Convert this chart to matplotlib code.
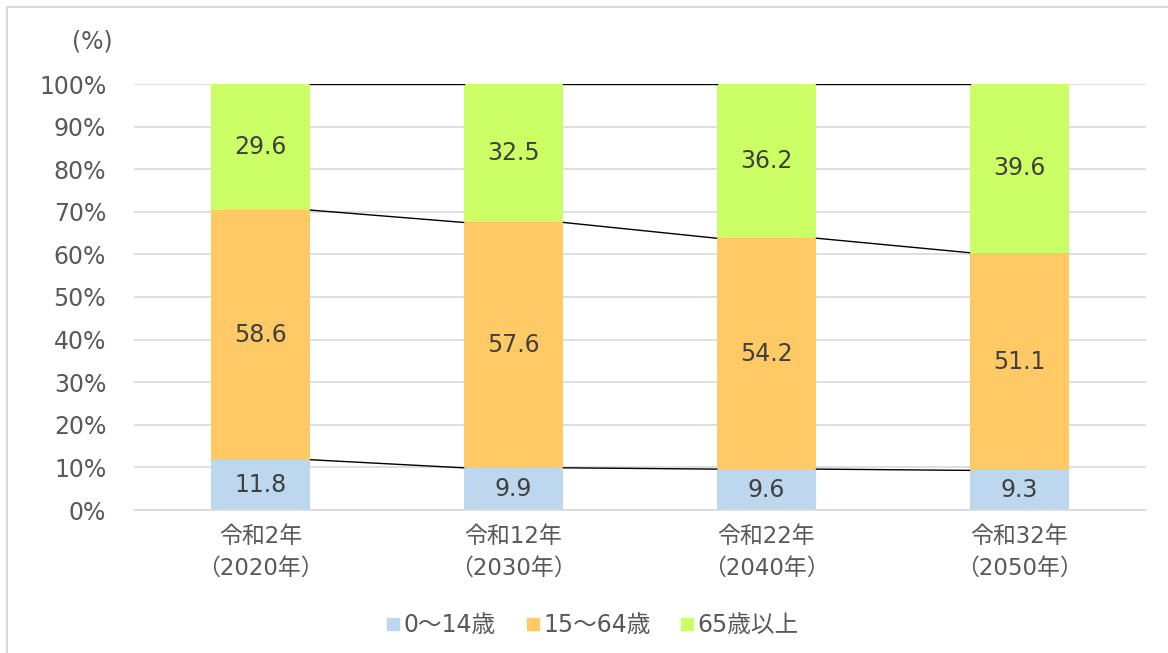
import matplotlib
matplotlib.use('Agg')
import matplotlib.pyplot as plt
from matplotlib.lines import Line2D
import numpy as np

# wide latin glyphs first, CJK fallback for kanji / full-width signs
plt.rcParams['font.family'] = ['DejaVu Sans', 'Noto Sans CJK JP']

# data
categories = ['令和2年\n（2020年）', '令和12年\n（2030年）', '令和22年\n（2040年）', '令和32年\n（2050年）']
series_names = ['0～14歳', '15～64歳', '65歳以上']
age_0_14 = [11.8, 9.9, 9.6, 9.3]
age_15_64 = [58.6, 57.6, 54.2, 51.1]
age_65_up = [29.6, 32.5, 36.2, 39.6]
yticks = [0, 10, 20, 30, 40, 50, 60, 70, 80, 90, 100]

colors = ['#BDD7EE', '#FFCA66', '#CCFF66']
txt = '#404040'
tick_col = '#595959'

fig = plt.figure(figsize=(11.68, 6.53), dpi=100)
ax = fig.add_axes([134/1168, 1-510/653, (1146-134)/1168, (510-84)/653])

x = np.arange(len(categories))
w = 0.395
bottom = np.zeros(len(categories))
for vals, col in zip([age_0_14, age_15_64, age_65_up], colors):
    vals = np.array(vals)
    ax.bar(x, vals, w, bottom=bottom, color=col, zorder=2)
    for xi, b, v in zip(x, bottom, vals):
        ax.text(xi, b + v/2, f'{v:.1f}', ha='center', va='center', fontsize=17, color=txt, zorder=4)
    bottom = bottom + vals
    # series lines between bar tops
    for i in range(len(categories)-1):
        ax.plot([x[i]+w/2, x[i+1]-w/2], [bottom[i], bottom[i+1]], color='black', lw=1, zorder=3)

ax.set_xlim(-0.5, len(categories)-0.5)
ax.set_ylim(0, 100)
ax.set_yticks(yticks)
ax.set_yticklabels([f'{t}%' for t in yticks])
ax.yaxis.grid(True, color='#D9D9D9', lw=1.2, zorder=0)
ax.set_axisbelow(True)
ax.tick_params(axis='y', length=0, labelsize=17, labelcolor=tick_col, pad=20)
ax.set_xticks(x)
ax.set_xticklabels(categories, fontsize=16.5, color=tick_col, linespacing=1.5)
ax.tick_params(axis='x', length=0, pad=11)
for s in ['top', 'right', 'left']:
    ax.spines[s].set_visible(False)
ax.spines['bottom'].set_color('#D9D9D9')
ax.spines['bottom'].set_linewidth(1.2)

fig.text(113/1168, 1-42/653, '(%)', ha='right', va='center', fontsize=17, color=tick_col)

handles = [Line2D([0], [0], marker='s', color='none', markerfacecolor=c, markeredgecolor=c, markersize=8) for c in colors]
fig.legend(handles, series_names, loc='center', bbox_to_anchor=(592/1168, 1-625/653), ncol=3, frameon=False,
           fontsize=17, labelcolor=tick_col, handletextpad=0.1, columnspacing=1.2, handlelength=0.7)

# outer frame (top and left edges visible in the reference)
fig.add_artist(Line2D([7/1168, 1], [1-7/653, 1-7/653], color='#D9D9D9', lw=1.5))
fig.add_artist(Line2D([7/1168, 7/1168], [0, 1-7/653], color='#D9D9D9', lw=1.5))

fig.savefig('out.png', dpi=100)
